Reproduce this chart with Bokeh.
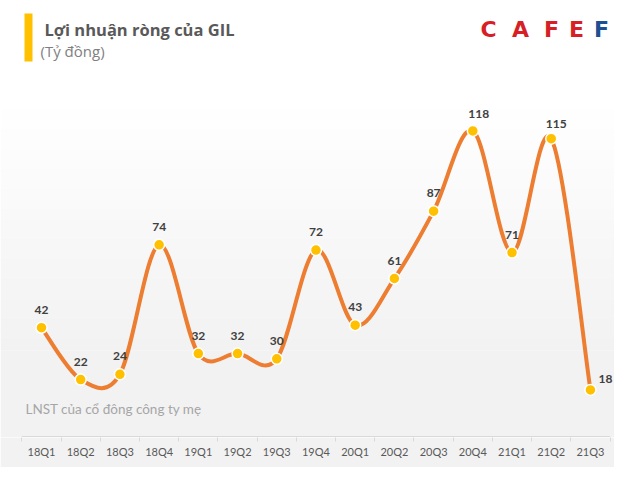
import numpy as np
from bokeh.plotting import figure
from bokeh.models import Range1d, FixedTicker, BoxAnnotation, Label
from bokeh.core.properties import value
from bokeh.embed import file_html
from bokeh.resources import INLINE

# ---- data ----
quarters = ["18Q1", "18Q2", "18Q3", "18Q4", "19Q1", "19Q2", "19Q3", "19Q4",
            "20Q1", "20Q2", "20Q3", "20Q4", "21Q1", "21Q2", "21Q3"]
profit = [42, 22, 24, 74, 32, 32, 30, 72, 43, 61, 87, 118, 71, 115, 18]
title_text = "Lợi nhuận ròng của GIL"
unit_text = "(Tỷ đồng)"
note_text = "LNST của cổ đông công ty mẹ"

# ---- layout constants ----
W, H = 614, 467
PX_PER_CAT = 39.21
FIRST_X = 41          # px of first category
PX_PER_UNIT = 2.59
ZERO_Y = 436          # px of value 0
BOTTOM = 30

x_start = -FIRST_X / PX_PER_CAT
x_end = (W - FIRST_X) / PX_PER_CAT
y_start = -(H - BOTTOM - ZERO_Y) / PX_PER_UNIT
y_end = ZERO_Y / PX_PER_UNIT


def X(px):
    return x_start + px / PX_PER_CAT


def Y(py):
    return (ZERO_Y - py) / PX_PER_UNIT


p = figure(width=W, height=H, output_backend="svg", toolbar_location=None,
           x_range=Range1d(x_start, x_end), y_range=Range1d(y_start, y_end),
           y_axis_location=None, min_border_left=0, min_border_right=0,
           min_border_top=0, min_border_bottom=BOTTOM)
p.outline_line_color = None
p.grid.visible = False
p.background_fill_color = "#ffffff"
p.border_fill_color = "#f2f2f2"

# gradient background (white at top to light grey)
g_top, g_bot = 100, 350
n = 25
for k in range(n):
    t = (k + 0.5) / n
    c = int(round(255 - (255 - 242) * t))
    top = Y(g_top + (g_bot - g_top) * k / n)
    bot = Y(g_top + (g_bot - g_top) * (k + 1) / n)
    p.add_layout(BoxAnnotation(top=top + 0.5, bottom=bot, fill_color=(c, c, c),
                               fill_alpha=1, line_color=None, level="underlay"))
p.add_layout(BoxAnnotation(top=Y(g_bot), fill_color="#f2f2f2", fill_alpha=1,
                           line_color=None, level="underlay"))

# axis
xs = np.arange(len(quarters))
ax = p.xaxis[0]
ax.ticker = FixedTicker(ticks=list(xs), minor_ticks=list(np.arange(-0.5, len(quarters), 1.0)))
ax.major_label_overrides = {int(i): q for i, q in zip(xs, quarters)}
ax.axis_line_color = None
ax.major_tick_line_color = None
ax.major_tick_out = 0
ax.major_tick_in = 0
ax.minor_tick_line_color = "#d9d9d9"
ax.minor_tick_out = 4
ax.minor_tick_in = 0
ax.major_label_standoff = 3
ax.major_label_text_font = "Lato"
ax.major_label_text_font_size = "11px"
ax.major_label_text_color = "#595959"
p.segment(x0=[-0.5], y0=[0], x1=[len(quarters) - 0.5], y1=[0],
          line_color="#d9d9d9", line_width=1)

# smooth line via cubic bezier (Catmull-Rom tangents)
yv = np.array(profit, dtype=float)
nn = len(yv)
x0, y0, x1, y1, cx0, cy0, cx1, cy1 = [], [], [], [], [], [], [], []
for i in range(nn - 1):
    i0 = max(i - 1, 0)
    i3 = min(i + 2, nn - 1)
    x0.append(xs[i]); y0.append(yv[i])
    x1.append(xs[i + 1]); y1.append(yv[i + 1])
    cx0.append(xs[i] + (xs[i + 1] - xs[i0]) / 6.0)
    cy0.append(yv[i] + (yv[i + 1] - yv[i0]) / 6.0)
    cx1.append(xs[i + 1] - (xs[i3] - xs[i]) / 6.0)
    cy1.append(yv[i + 1] - (yv[i3] - yv[i]) / 6.0)
p.bezier(x0=x0, y0=y0, x1=x1, y1=y1, cx0=cx0, cy0=cy0, cx1=cx1, cy1=cy1,
         line_color="#ED7D31", line_width=4, line_cap="round")

p.scatter(xs, profit, size=11, fill_color="#FFC000", line_color="white", line_width=1.5)

# data labels
label_dx = [0] * nn
label_dy = [-18] * nn
label_dx[11], label_dy[11] = 6, -17
label_dx[13], label_dy[13] = 5, -15
label_dx[14], label_dy[14] = 15, -11
for i in range(nn):
    p.text(x=[xs[i]], y=[profit[i]], text=[str(profit[i])], x_offset=label_dx[i], y_offset=label_dy[i],
           text_align="center", text_baseline="middle", text_font=value("Lato"),
           text_font_style="bold", text_font_size="12px", text_color="#404040")

# title block
p.add_layout(BoxAnnotation(left=X(24), right=X(32), top=Y(13), bottom=Y(61),
                           fill_color="#FFC000", fill_alpha=1, line_color=None))
p.add_layout(Label(x=X(44), y=Y(29), text=title_text, text_font="Open Sans", text_font_style="bold",
                   text_font_size="16.5px", text_color="#595959", text_baseline="middle"))
p.add_layout(Label(x=X(40), y=Y(50), text=unit_text, text_font="Open Sans",
                   text_font_size="15px", text_color="#7f7f7f", text_baseline="middle"))

# note
p.add_layout(Label(x=X(25), y=Y(408), text=note_text, text_font="Lato",
                   text_font_size="13.5px", text_color="#a6a6a6", text_baseline="middle"))

# logo
logo_letters = ["C", "A", "F", "E", "F"]
logo_centers = [488, 520, 551, 576, 601]
logo_colors = ["#d71f26", "#d71f26", "#d71f26", "#d71f26", "#1d4f91"]
for ch, cxp, col in zip(logo_letters, logo_centers, logo_colors):
    p.add_layout(Label(x=X(cxp), y=Y(29), text=ch, text_font="DejaVu Sans", text_font_style="bold",
                       text_font_size="22px", text_color=col, text_align="center",
                       text_baseline="middle"))

open("out.html", "w").write(file_html(p, INLINE))
